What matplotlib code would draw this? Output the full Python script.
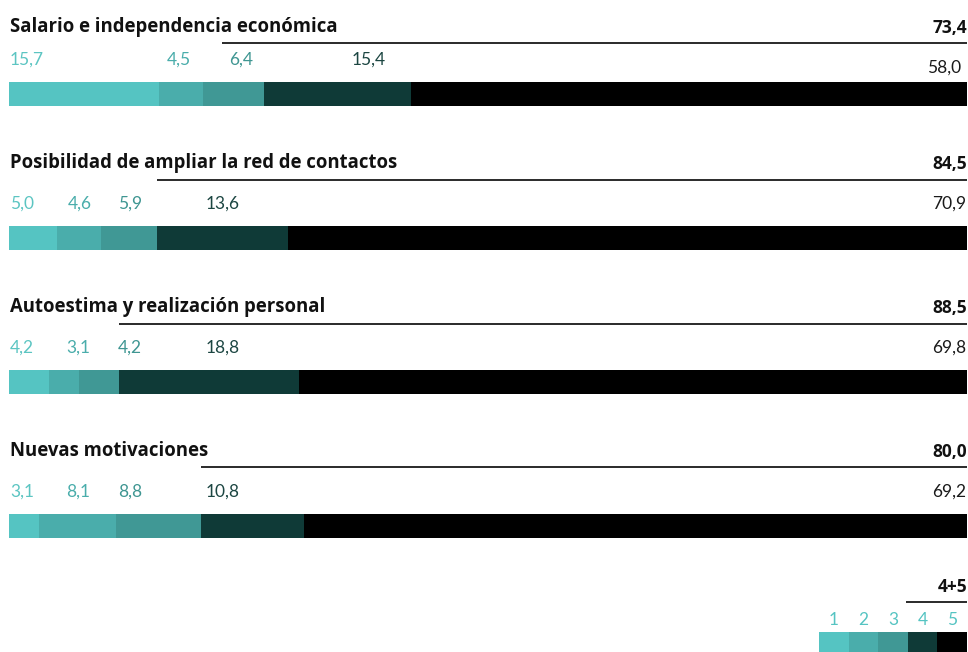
import matplotlib
matplotlib.use("Agg")
import matplotlib.pyplot as plt
import numpy as np

# ---- data ----
categories = ["Salario e independencia económica",
              "Posibilidad de ampliar la red de contactos",
              "Autoestima y realización personal",
              "Nuevas motivaciones"]
s1 = [15.7, 5.0, 4.2, 3.1]
s2 = [4.5, 4.6, 3.1, 8.1]
s3 = [6.4, 5.9, 4.2, 8.8]
s4 = [15.4, 13.6, 18.8, 10.8]
s5 = [58.0, 70.9, 69.8, 69.2]
totals45 = ["73,4", "84,5", "88,5", "80,0"]
legend_labels = ["1", "2", "3", "4", "5"]
legend_title = "4+5"

# ---- styles / layout ----
seg_colors = ["#55c4c2", "#4aadab", "#409895", "#0f3a37", "#000000"]
lab_colors = ["#5cc5c2", "#4aadab", "#3f9692", "#1c4642", "#1a1a1a"]
W, H = 968, 652
x0_px, x1_px = 9, 967
bar_top = [82, 226, 370, 514]
bar_h = 24
title_base = [32, 168, 312, 456]
line_y = [43, 179.5, 323.5, 467]
lab_base = [65, 209, 353, 497]
last_lab_base = [73, 209, 353, 497]
last_lab_right_px = [961, 966, 966, 966]
# right edges (px) of value labels 2-4 per row
lab_right_px = [[191, 253, 386], [92, 142, 240], [90, 142, 240], [90, 142, 240]]
line_start_px = [222, None, None, None]

def px2x(px):
    return (px - x0_px) / (x1_px - x0_px) * 100.0

num_font = dict(family=["Lato", "DejaVu Sans"], fontweight="normal", fontsize=12.5)
title_font = dict(family=["Open Sans", "DejaVu Sans"], fontweight="bold", fontsize=13.35)
total_font = dict(family=["Open Sans", "DejaVu Sans"], fontweight="bold", fontsize=12.5)

fig = plt.figure(figsize=(W / 100, H / 100), dpi=100)
ax = fig.add_axes([x0_px / W, 0, (x1_px - x0_px) / W, 1])
ax.set_xlim(0, 100)
ax.set_ylim(H, 0)
ax.axis("off")

series = [s1, s2, s3, s4, s5]
fmt = lambda v: f"{v:.1f}".replace(".", ",")

for i, cat in enumerate(categories):
    vals = [s[i] for s in series]
    lefts = np.concatenate([[0], np.cumsum(vals)[:-1]])
    yc = bar_top[i] + bar_h / 2
    ax.barh([yc] * 5, vals, left=lefts, height=bar_h, color=seg_colors,
            edgecolor="none")
    # title
    ax.text(px2x(10), title_base[i], cat, ha="left", va="baseline",
            color="#111111", **title_font)
    # total 4+5
    ax.text(px2x(967), title_base[i] + 1, totals45[i], ha="right", va="baseline",
            color="#111111", **total_font)
    # bracket line
    ls = px2x(line_start_px[i]) if line_start_px[i] is not None else lefts[3]
    ax.plot([ls, 100], [line_y[i]] * 2, color="#2a2a2a", lw=1.4,
            solid_capstyle="butt", clip_on=False)
    # value labels
    ax.text(px2x(10), lab_base[i], fmt(vals[0]), ha="left", va="baseline",
            color=lab_colors[0], **num_font)
    for k in range(3):
        ax.text(px2x(lab_right_px[i][k]), lab_base[i], fmt(vals[k + 1]),
                ha="right", va="baseline", color=lab_colors[k + 1], **num_font)
    ax.text(px2x(last_lab_right_px[i]), last_lab_base[i], fmt(vals[4]),
            ha="right", va="baseline", color=lab_colors[4], **num_font)

# ---- legend ----
leg_left = px2x(819)
box_w = (100 - leg_left) / 5
lefts = leg_left + box_w * np.arange(5)
ax.barh([642] * 5, [box_w] * 5, left=lefts, height=20, color=seg_colors,
        edgecolor="none", clip_on=False)
for k, lab in enumerate(legend_labels):
    ax.text(lefts[k] + box_w / 2, 625, lab, ha="center", va="baseline",
            color="#55c4c2", **num_font)
ax.plot([px2x(906), 100], [602, 602], color="#2a2a2a", lw=1.4,
        solid_capstyle="butt", clip_on=False)
ax.text(px2x(967), 592, legend_title, ha="right", va="baseline",
        color="#111111", **total_font)

fig.savefig("out.png", dpi=100, facecolor="white")
